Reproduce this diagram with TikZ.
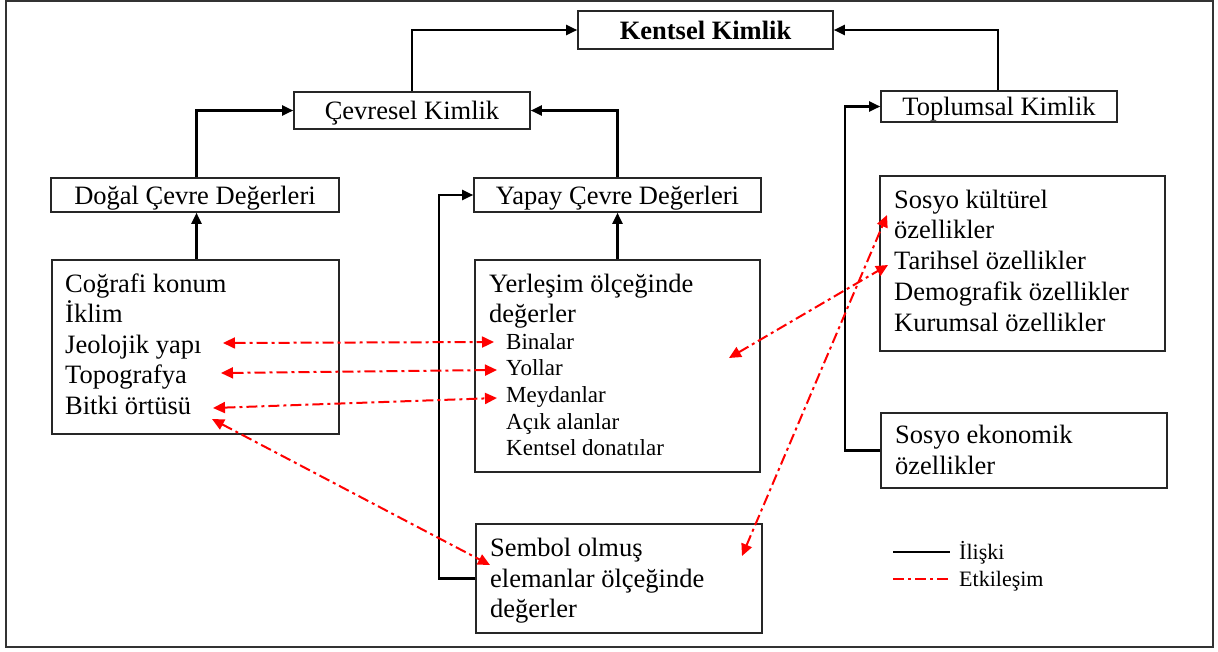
\documentclass[tikz,border=0pt]{standalone}
\usepackage{fontspec}
\setmainfont{Liberation Serif}
\usetikzlibrary{arrows.meta}
\begin{document}
\begin{tikzpicture}[x=1pt,y=-1pt,
  box/.style={draw=black!85, line width=1.6pt, inner sep=0pt, fill=white},
  single/.style={box, font=\fontsize{26.5}{31}\selectfont, text height=18pt, text depth=0pt},
  main/.style={font=\fontsize{26.5}{31}\selectfont, inner sep=0pt, anchor=base west},
  sub/.style={font=\fontsize{23}{27}\selectfont, inner sep=0pt, anchor=base west},
  leg/.style={font=\fontsize{22}{26}\selectfont, inner sep=0pt, anchor=base west},
  rel/.style={draw=black, line width=2.2pt, -{Triangle[length=11pt,width=10pt]}},
  relline/.style={draw=black, line width=2.4pt},
  interline/.style={draw=red, line width=2pt, dash pattern=on 11pt off 4pt on 3pt off 4pt},
  inter/.style={interline, {Triangle[length=12pt,width=11pt]}-{Triangle[length=12pt,width=11pt]}},
]
\useasboundingbox (0,0) rectangle (1218,651);
\draw[line width=2.2pt, black!80] (6,1) rectangle (1213,647);

% single-line boxes
\node[single, minimum width=255pt, minimum height=38pt] (kent) at (705.5,30) {\textbf{Kentsel Kimlik}};
\node[single, minimum width=236pt, minimum height=37pt] (cev) at (412,110.5) {Çevresel Kimlik};
\node[single, minimum width=236pt, minimum height=31pt] (top) at (999,106.5) {Toplumsal Kimlik};
\node[single, minimum width=288pt, minimum height=34pt] (dog) at (195,195) {Doğal Çevre Değerleri};
\node[single, minimum width=287pt, minimum height=34pt] (yap) at (617.5,195) {Yapay Çevre Değerleri};

% multi-line boxes
\node[box, minimum width=287pt, minimum height=174pt] (cog) at (195.5,347) {};
\node[box, minimum width=285pt, minimum height=212pt] (yer) at (617.5,366) {};
\node[box, minimum width=285pt, minimum height=175pt] (sk) at (1022.5,263.5) {};
\node[box, minimum width=286pt, minimum height=75pt] (se) at (1024,450.5) {};
\node[box, minimum width=286pt, minimum height=109pt] (sem) at (619,578.5) {};

% texts
\foreach \t [count=\i] in {Coğrafi konum, İklim, Jeolojik yapı, Topografya, Bitki örtüsü}
  \node[main] (cogt\i) at (65,261.5+30.5*\i) {\t};
\node[main] (yert1) at (489,292) {Yerleşim ölçeğinde};
\node[main] (yert2) at (489,322) {değerler};
\foreach \t [count=\i] in {Binalar, Yollar, Meydanlar, Açık alanlar, Kentsel donatılar}
  \node[sub] (yers\i) at (506,322.3+26.7*\i) {\t};
\foreach \t [count=\i] in {Sosyo kültürel, özellikler, Tarihsel özellikler, Demografik özellikler, Kurumsal özellikler}
  \node[main] (skt\i) at (894,177.25+30.75*\i) {\t};
\node[main] (set1) at (895,443) {Sosyo ekonomik};
\node[main] (set2) at (895,474) {özellikler};
\node[main] (semt1) at (490,556) {Sembol olmuş};
\node[main] (semt2) at (490,587) {elemanlar ölçeğinde};
\node[main] (semt3) at (490,617) {değerler};

% relations
\draw[rel] (cev.north) |- (kent.west);
\draw[rel] (top.north -| 998,0) |- (kent.east);
\draw[rel] (dog.north -| 196.5,0) |- (cev.west);
\draw[rel] (yap.north) |- (cev.east);
\draw[rel] (cog.north -| 196.5,0) -- (dog.south -| 196.5,0);
\draw[rel] (yer.north) -- (yap.south);
\coordinate (semc) at (439,578.5);
\draw[rel] (sem.west) -- (semc) |- (yap.west);
\coordinate (sec) at (845,450.5);
\draw[rel] (se.west) -- (sec) |- (top.west);

% interactions
\coordinate (a1) at (223,343); \coordinate (b1) at (494,342);
\coordinate (a2) at (221,373); \coordinate (b2) at (497,370);
\coordinate (a3) at (213,408); \coordinate (b3) at (497,398);
\coordinate (a4) at (212,419); \coordinate (b4) at (490,565);
\coordinate (a5) at (729,358); \coordinate (b5) at (888,265);
\coordinate (a6) at (742,556); \coordinate (b6) at (887,215);
\foreach \i in {1,...,6} \draw[inter] (a\i) -- (b\i);

% legend
\coordinate (l1a) at (893,552); \coordinate (l1b) at (950,552);
\coordinate (l2a) at (893,579); \coordinate (l2b) at (950,579);
\draw[relline] (l1a) -- (l1b);
\draw[interline] (l2a) -- (l2b);
\node[leg] (legt1) at (959,559) {İlişki};
\node[leg] (legt2) at (959,586) {Etkileşim};
\end{tikzpicture}
\end{document}
